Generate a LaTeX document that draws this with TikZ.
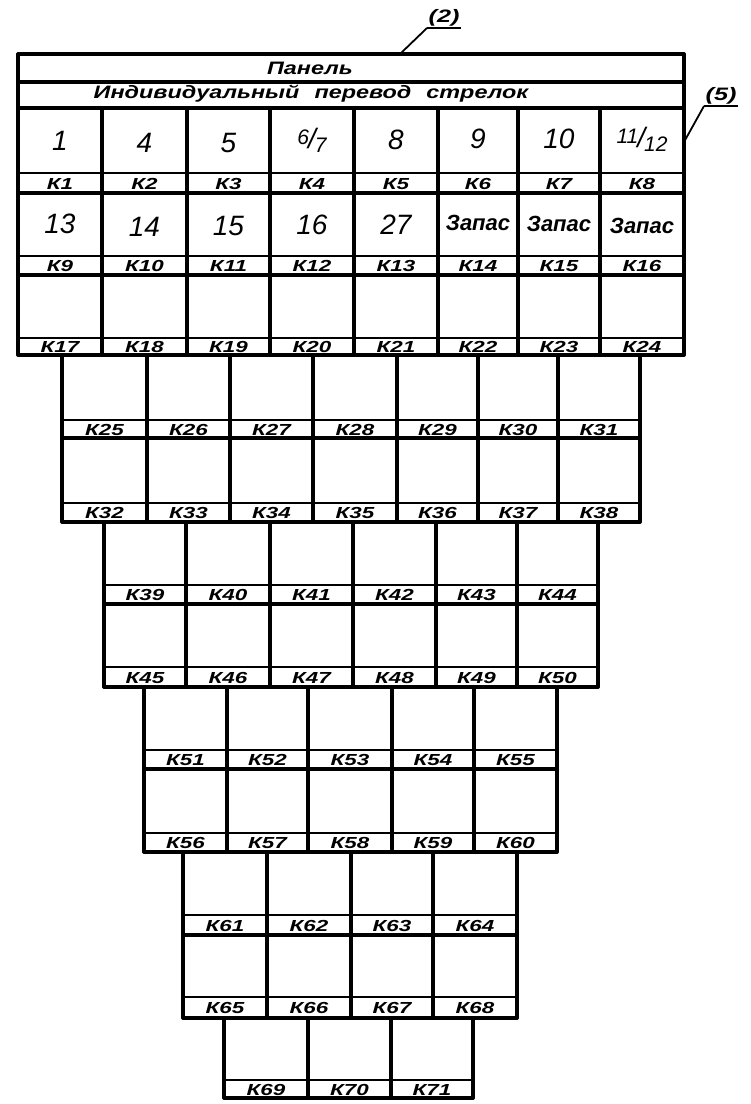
\documentclass[tikz,border=0pt]{standalone}
\usepackage{fontspec}
\setmainfont{Liberation Sans}
\newfontfamily\labfont[FakeStretch=1.4]{Liberation Sans}
\newfontfamily\ttlfont[FakeStretch=1.3]{Liberation Sans}
\begin{document}
\begin{tikzpicture}[x=1pt,y=-1pt,
  thickln/.style={line width=3.2pt,line cap=round},
  thinln/.style={line width=2.2pt,line cap=round},
  leader/.style={line width=1.8pt},
  labtxt/.style={font=\labfont\bfseries\itshape\fontsize{16}{16}\selectfont,inner sep=0pt,anchor=base,yshift=-5.7pt},
  numtxt/.style={font=\itshape\fontsize{28}{28}\selectfont,inner sep=0pt},
  zaptxt/.style={font=\bfseries\itshape\fontsize{22}{22}\selectfont,inner sep=0pt},
  ttltxt/.style={font=\ttlfont\bfseries\itshape\fontsize{18}{18}\selectfont,inner sep=0pt},
  reftxt/.style={font=\labfont\bfseries\itshape\fontsize{18}{18}\selectfont,inner sep=1.5pt}]
\useasboundingbox (0,0) rectangle (751,1104);

% ---------- block 1 ----------
\draw[thickln] (18,54) -- (684,54);
\draw[thickln] (18,82) -- (684,82);
\draw[thickln] (18,108) -- (684,108);
\draw[thinln] (18,173) -- (684,173);
\draw[thickln] (18,193) -- (684,193);
\draw[thinln] (18,256) -- (684,256);
\draw[thickln] (18,275) -- (684,275);
\draw[thinln] (18,338) -- (684,338);
\draw[thickln] (18,355) -- (684,355);
\draw[thickln] (18,54) -- (18,355);
\draw[thickln] (684,54) -- (684,355);
\foreach \x in {102,187,270,354,438,518,600}
  \draw[thickln] (\x,108) -- (\x,355);

% ---------- block 2 ----------
\foreach \y in {438,522} \draw[thickln] (62,\y) -- (640,\y);
\foreach \y in {420,503} \draw[thinln] (62,\y) -- (640,\y);
\foreach \x in {62,147,230,313,397,478,558,640}
  \draw[thickln] (\x,355) -- (\x,522);

% ---------- block 3 ----------
\foreach \y in {604,687} \draw[thickln] (104,\y) -- (598,\y);
\foreach \y in {585,667} \draw[thinln] (104,\y) -- (598,\y);
\foreach \x in {104,186,270,353,436,517,598}
  \draw[thickln] (\x,522) -- (\x,687);

% ---------- block 4 ----------
\foreach \y in {769,852} \draw[thickln] (144,\y) -- (557,\y);
\foreach \y in {750,833} \draw[thinln] (144,\y) -- (557,\y);
\foreach \x in {144,227,308,392,474,557}
  \draw[thickln] (\x,687) -- (\x,852);

% ---------- block 5 ----------
\foreach \y in {935,1018} \draw[thickln] (183,\y) -- (517,\y);
\foreach \y in {915,997} \draw[thinln] (183,\y) -- (517,\y);
\foreach \x in {183,267,351,433,517}
  \draw[thickln] (\x,852) -- (\x,1018);

% ---------- block 6 ----------
\draw[thickln] (224,1098) -- (473,1098);
\draw[thinln] (224,1080) -- (473,1080);
\foreach \x in {224,308,391,473}
  \draw[thickln] (\x,1018) -- (\x,1098);

% ---------- titles ----------
\node[ttltxt] (title) at (310,68) {Панель};
\node[ttltxt] (subtitle) at (311,94) {Индивидуальный\hspace{15pt}перевод\hspace{15pt}стрелок};

% ---------- big numbers ----------
\node[numtxt] (n1) at (60,141) {1};
\node[numtxt] (n2) at (144.5,143) {4};
\node[numtxt] (n3) at (228.5,143) {5};
\node[numtxt] (n4) at (312,140) {\raisebox{4pt}{\fontsize{21}{21}\selectfont 6}\kern-1pt/\kern-1pt\raisebox{-4pt}{\fontsize{21}{21}\selectfont 7}};
\node[numtxt] (n5) at (396,140) {8};
\node[numtxt] (n6) at (478,139) {9};
\node[numtxt] (n7) at (559,139) {10};
\node[numtxt] (n8) at (642,139) {\raisebox{4pt}{\fontsize{21}{21}\selectfont 11}\kern-1pt/\kern-1pt\raisebox{-4pt}{\fontsize{21}{21}\selectfont 12}};
\node[numtxt] (n9) at (60,224) {13};
\node[numtxt] (n10) at (144.5,227) {14};
\node[numtxt] (n11) at (228.5,226) {15};
\node[numtxt] (n12) at (312,225) {16};
\node[numtxt] (n13) at (396,225) {27};
\node[zaptxt] (n14) at (478,223) {Запас};
\node[zaptxt] (n15) at (559,224) {Запас};
\node[zaptxt] (n16) at (642,226) {Запас};

% ---------- K labels ----------
\foreach \a/\b [count=\i from 1] in {18/102,102/187,187/270,270/354,354/438,438/518,518/600,600/684}
  \node[labtxt] (k\i) at ({(\a+\b)/2},183.5) {К\i};
\foreach \a/\b [count=\i from 9] in {18/102,102/187,187/270,270/354,354/438,438/518,518/600,600/684}
  \node[labtxt] (k\i) at ({(\a+\b)/2},266) {К\i};
\foreach \a/\b [count=\i from 17] in {18/102,102/187,187/270,270/354,354/438,438/518,518/600,600/684}
  \node[labtxt] (k\i) at ({(\a+\b)/2},347) {К\i};
\foreach \a/\b [count=\i from 25] in {62/147,147/230,230/313,313/397,397/478,478/558,558/640}
  \node[labtxt] (k\i) at ({(\a+\b)/2},429.5) {К\i};
\foreach \a/\b [count=\i from 32] in {62/147,147/230,230/313,313/397,397/478,478/558,558/640}
  \node[labtxt] (k\i) at ({(\a+\b)/2},513) {К\i};
\foreach \a/\b [count=\i from 39] in {104/186,186/270,270/353,353/436,436/517,517/598}
  \node[labtxt] (k\i) at ({(\a+\b)/2},595) {К\i};
\foreach \a/\b [count=\i from 45] in {104/186,186/270,270/353,353/436,436/517,517/598}
  \node[labtxt] (k\i) at ({(\a+\b)/2},677.5) {К\i};
\foreach \a/\b [count=\i from 51] in {144/227,227/308,308/392,392/474,474/557}
  \node[labtxt] (k\i) at ({(\a+\b)/2},760) {К\i};
\foreach \a/\b [count=\i from 56] in {144/227,227/308,308/392,392/474,474/557}
  \node[labtxt] (k\i) at ({(\a+\b)/2},843) {К\i};
\foreach \a/\b [count=\i from 61] in {183/267,267/351,351/433,433/517}
  \node[labtxt] (k\i) at ({(\a+\b)/2},925.5) {К\i};
\foreach \a/\b [count=\i from 65] in {183/267,267/351,351/433,433/517}
  \node[labtxt] (k\i) at ({(\a+\b)/2},1008) {К\i};
\foreach \a/\b [count=\i from 69] in {224/308,308/391,391/473}
  \node[labtxt] (k\i) at ({(\a+\b)/2},1089.5) {К\i};

% ---------- reference marks ----------
\node[reftxt,anchor=south west] (r2) at (427,28) {(2)};
\coordinate (p2) at (400,54);
\draw[leader] (r2.south west) -- (r2.south east);
\draw[leader] (r2.south west) -- (p2);
\node[reftxt,anchor=south west] (r5) at (704,106) {(5)};
\coordinate (p5) at (684,142);
\draw[leader] (r5.south west) -- (r5.south east);
\draw[leader] (r5.south west) -- (p5);
\end{tikzpicture}
\end{document}
